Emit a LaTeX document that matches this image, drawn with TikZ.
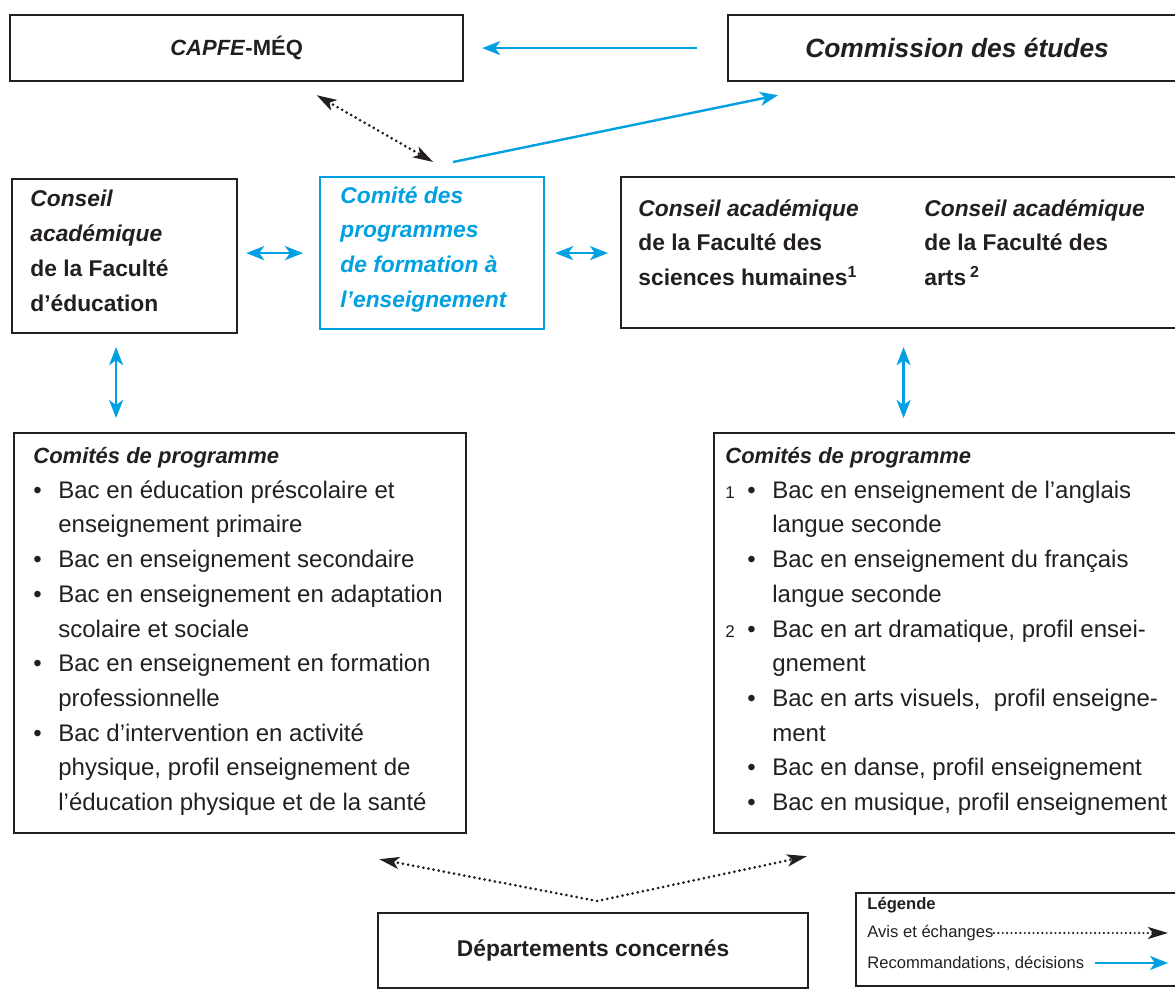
\documentclass[tikz,border=0pt]{standalone}
\usepackage{fontspec}
\setmainfont{Liberation Sans}
\usepackage{xcolor}
\usetikzlibrary{arrows.meta}
\definecolor{uqblue}{RGB}{0,160,225}
\definecolor{ink}{RGB}{35,31,32}
\newcommand{\boxfont}{\fontsize{11.4}{17.35}\selectfont\bfseries}
\newcommand{\listfont}{\fontsize{12}{17.35}\selectfont}
\newcommand{\headfont}{\fontsize{11}{17.35}\selectfont\bfseries\itshape}
\newcommand{\legfont}{\fontsize{8.3}{10}\selectfont}
\newcommand{\itm}{\makebox[12.5pt][l]{\textbullet}}
\newcommand{\nbr}[1]{\makebox[11pt][l]{\fontsize{8.5}{10}\selectfont #1}}

\begin{document}
\begin{tikzpicture}[x=0.5pt,y=-0.5pt,text=ink,
  box/.style={draw=ink,line width=1.1pt,inner sep=0pt,anchor=north west},
  txt/.style={inner sep=0pt,anchor=north west,align=left},
  rec/.style={draw=uqblue,line width=1.2pt,>={Stealth[length=9pt,width=7pt,inset=2.5pt]}},
  avis/.style={draw=ink,line width=1.5pt,line cap=round,dash pattern=on 0pt off 2.6pt,
    >={Stealth[length=10pt,width=6pt,inset=2.5pt]}}]
\useasboundingbox (0,0) rectangle (1175,994);
\clip (0,0) rectangle (1175,994);
%
\node[box,minimum width=226.5pt,minimum height=33pt,font=\fontsize{11}{13}\selectfont\bfseries] (capfe) at (9,14) {\textit{CAPFE}-MÉQ};
\node[box,minimum width=229pt,minimum height=33pt,font=\fontsize{13.2}{16}\selectfont\bfseries\itshape] (comm) at (727,14) {Commission des études};
\draw[rec,->,shorten <=15pt,shorten >=9pt] (comm.west) -- (capfe.east);
%
\node[box,minimum width=112.5pt,minimum height=77pt] (conseil) at (11,178) {};
\node[txt,font=\boxfont] (conseilt) at (30,190) {{\itshape Conseil}\\ {\itshape académique}\\ de la Faculté\\ d’éducation};
%
\node[box,draw=uqblue,minimum width=112pt,minimum height=76pt] (comite) at (319,176) {};
\node[txt,font=\boxfont\itshape,text=uqblue] (comitet) at (340,186) {Comité des\\ programmes\\ de formation à\\ l’enseignement};
%
\node[box,minimum width=282.5pt,minimum height=75.5pt] (facs) at (620,176) {};
\node[txt,font=\boxfont] (fsh) at (638,199) {\textit{Conseil académique}\\ de la Faculté des\\ sciences humaines\textsuperscript{1}};
\node[txt,font=\boxfont] (farts) at (924,199) {\textit{Conseil académique}\\ de la Faculté des\\ arts\,\textsuperscript{2}};
%
\draw[avis,<->] ([shift={(80,13)}]capfe.south) -- ([shift={(1,-14)}]comite.north);
\draw[rec,->] ([shift={(21,-14)}]comite.north) -- ([shift={(51,13)}]comm.south west);
\draw[rec,<->,shorten <=4pt,shorten >=8pt] (comite.west -| conseil.east) -- (comite.west);
\draw[rec,<->,shorten <=5pt,shorten >=6pt] (comite.east) -- (comite.east -| facs.west);
%
\node[box,minimum width=226pt,minimum height=200pt] (cpl) at (13,432) {};
\node[txt,font=\listfont] (cplt) at (33,447) {{\headfont Comités de programme}\\
  \itm Bac en éducation préscolaire et\\
  \hspace*{12.5pt}enseignement primaire\\
  \itm Bac en enseignement secondaire\\
  \itm Bac en enseignement en adaptation\\
  \hspace*{12.5pt}scolaire et sociale\\
  \itm Bac en enseignement en formation\\
  \hspace*{12.5pt}professionnelle\\
  \itm Bac d’intervention en activité\\
  \hspace*{12.5pt}physique, profil enseignement de\\
  \hspace*{12.5pt}l’éducation physique et de la santé};
%
\node[box,minimum width=236pt,minimum height=200pt] (cpr) at (713,432) {};
\node[txt,font=\listfont] (cprt) at (725,447) {{\headfont Comités de programme}\\
  \nbr{1}\itm Bac en enseignement de l’anglais\\
  \hspace*{23.5pt}langue seconde\\
  \hspace*{11pt}\itm Bac en enseignement du français\\
  \hspace*{23.5pt}langue seconde\\
  \nbr{2}\itm Bac en art dramatique, profil ensei-\\
  \hspace*{23.5pt}gnement\\
  \hspace*{11pt}\itm Bac en arts visuels,\ \ profil enseigne-\\
  \hspace*{23.5pt}ment\\
  \hspace*{11pt}\itm Bac en danse, profil enseignement\\
  \hspace*{11pt}\itm Bac en musique, profil enseignement};
%
\coordinate (lft) at ([shift={(-8.5,0)}]conseil.south);
\draw[rec,<->,shorten <=6.5pt,shorten >=7pt] (lft) -- (lft |- cpl.north);
\draw[rec,<->,shorten <=9pt,shorten >=7pt] (facs.south) -- (facs.south |- cpr.north);
%
\node[box,minimum width=215pt,minimum height=37.5pt,font=\boxfont] (dept) at (377,912) {Départements concernés};
\coordinate (apex) at ([shift={(4,-11)}]dept.north);
\draw[avis,<->] ([shift={(-88,25)}]cpl.south east) -- (apex) -- ([shift={(94,22)}]cpr.south west);
%
\node[box,minimum width=165pt,minimum height=46.5pt] (leg) at (855,892) {};
\node[anchor=west,inner sep=0pt,font=\legfont\bfseries] (legt) at (867,905) {Légende};
\node[anchor=west,inner sep=0pt,font=\legfont] (lavis) at (867,933) {Avis et échanges};
\node[anchor=west,inner sep=0pt,font=\legfont] (lreco) at (867,963) {Recommandations, décisions};
\coordinate (lend) at (1168,933);
\draw[avis,->,line width=1.2pt,dash pattern=on 0pt off 2.2pt] (lavis.east) -- (lavis.east -| lend);
\draw[rec,->,shorten <=5pt] (lreco.east) -- (lreco.east -| lend);
\end{tikzpicture}
\end{document}
